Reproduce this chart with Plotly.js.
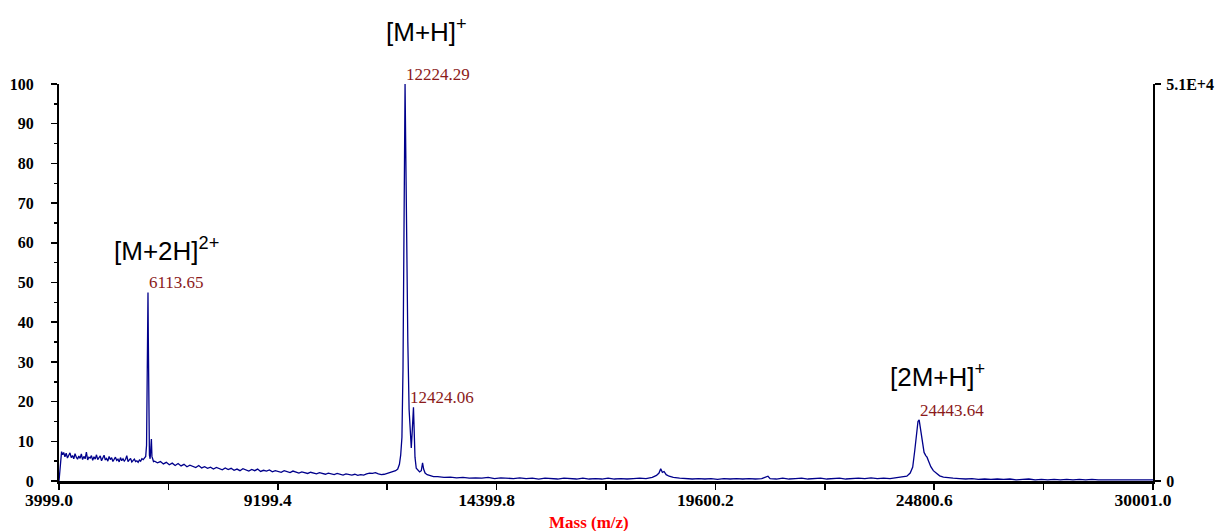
<!DOCTYPE html>
<html>
<head>
<meta charset="utf-8">
<script src="https://cdn.plot.ly/plotly-3.0.1.min.js"></script>
<style>html,body{margin:0;padding:0;background:#fff;}#chart{width:1220px;height:531px;}</style>
</head>
<body>
<div id="chart"></div>
<script>
// ---- Spectrum data (mass m/z, relative intensity %) ----
const massA = [3999, 4030, 4060, 4085, 4110, 4140, 4170, 4200, 4230, 4260,
  4290, 4320, 4350, 4380, 4410, 4440, 4470, 4500, 4530, 4560,
  4590, 4620, 4650, 4680, 4710, 4740, 4770, 4800, 4830, 4860,
  4890, 4920, 4950, 4980, 5010, 5040, 5070, 5100, 5130, 5160,
  5190, 5220, 5250, 5280, 5310, 5340, 5370, 5400, 5430, 5460,
  5490, 5520, 5550, 5580, 5610, 5640, 5670, 5700, 5730, 5760,
  5790, 5820, 5850, 5880, 5910, 5940, 5970, 6000, 6030];
const intA = [0, 3.8, 7.4, 6.6, 7.2, 6.1, 7.0, 5.8, 6.6, 7.1,
  5.9, 6.4, 5.6, 6.9, 6.0, 5.5, 6.3, 5.7, 6.8, 5.4,
  6.2, 5.6, 7.3, 5.3, 6.0, 5.8, 6.4, 5.2, 6.1, 5.5,
  6.6, 5.4, 5.9, 6.3, 5.1, 5.8, 6.5, 5.3, 5.7, 5.0,
  6.2, 5.4, 5.9, 4.9, 5.6, 6.0, 5.2, 5.5, 4.8, 5.9,
  5.1, 5.6, 5.0, 5.4, 6.4, 4.9, 5.3, 5.7, 4.8, 5.2,
  5.5, 4.9, 5.1, 4.7, 5.3, 5.0, 5.6, 5.4, 5.8];

const massB = [6060, 6080, 6095, 6106, 6114, 6122, 6133, 6148, 6165, 6182, 6195, 6208, 6225, 6245];
const intB  = [6.2, 9, 24, 42, 47.5, 36, 14, 6.5, 5.6, 8.5, 10.6, 6.2, 5.4, 4.9];

const massC = [6270, 6340, 6410, 6480, 6550, 6620, 6690, 6760, 6830, 6900,
  6970, 7040, 7110, 7180, 7250, 7320, 7390, 7460, 7530, 7600,
  7670, 7740, 7810, 7880, 7950, 8020, 8090, 8160, 8230, 8300,
  8370, 8440, 8510, 8580, 8650, 8720, 8790, 8860, 8930, 9000,
  9070, 9140, 9210, 9280, 9350, 9420, 9490, 9560, 9630, 9700,
  9770, 9840, 9910, 9980, 10050, 10120, 10190, 10260, 10330, 10400,
  10470, 10540, 10610, 10680, 10750, 10820, 10890, 10960, 11030, 11100,
  11170, 11240, 11310, 11380, 11450, 11520, 11590, 11660, 11730, 11800,
  11870, 11940];
const intC = [5.0, 4.6, 4.9, 4.3, 4.7, 4.1, 4.5, 3.9, 4.4, 3.8,
  4.2, 3.6, 4.0, 3.7, 3.4, 3.9, 3.3, 3.6, 3.2, 3.5,
  3.0, 3.4, 3.1, 2.8, 3.3, 2.9, 3.2, 2.7, 3.0, 2.6,
  3.1, 2.8, 2.5, 2.9, 2.6, 3.0, 2.4, 2.7, 2.5, 2.8,
  2.3, 2.6, 2.4, 2.2, 2.6, 2.3, 2.1, 2.5, 2.2, 2.0,
  2.3, 2.1, 1.9, 2.2, 2.0, 1.8, 2.1, 1.9, 1.7, 2.0,
  1.8, 1.6, 1.9, 1.7, 1.5, 1.8, 1.6, 1.5, 1.7, 1.4,
  1.6, 1.5, 1.8, 2.0, 1.9, 2.1, 1.8, 1.6, 1.7, 1.9,
  2.1, 2.4];

const massD = [12000, 12050, 12090, 12120, 12150, 12175, 12198, 12214, 12224, 12236,
  12260, 12290, 12320, 12350, 12372, 12392, 12410, 12424, 12440, 12460,
  12490, 12530, 12570, 12610, 12640, 12665, 12700, 12750, 12820, 12900];
const intD = [2.6, 3.0, 4.2, 6.5, 11, 28, 62, 92, 100, 88,
  60, 35, 18, 9.5, 8.3, 12, 17.2, 18.6, 13, 6,
  3.2, 2.6, 2.3, 2.6, 4.6, 3.0, 2.0, 1.6, 1.3, 1.1];

const massE = [13000, 13150, 13300, 13450, 13600, 13750, 13900, 14050, 14200, 14350,
  14500, 14650, 14800, 14950, 15100, 15250, 15400, 15550, 15700, 15850,
  16000, 16150, 16300, 16450, 16600, 16750, 16900, 17050, 17200, 17350,
  17500, 17650, 17800, 17950, 18100, 18200, 18260, 18300, 18340, 18380,
  18430, 18500, 18600, 18750, 18900, 19050, 19200, 19350, 19500, 19650,
  19800, 19950, 20100, 20250, 20400, 20550, 20700, 20850, 20900, 21050,
  21200, 21350, 21500, 21650, 21800, 21950, 22100, 22250, 22400, 22550,
  22700, 22850, 23000, 23150, 23300, 23450, 23600, 23750, 23900, 24050,
  24150, 24230, 24290, 24340, 24380, 24415, 24443, 24470, 24510, 24560,
  24600, 24630, 24670, 24720, 24780, 24850, 24930, 25020, 25130, 25250,
  25400, 25550, 25700, 25850, 26000, 26150, 26300, 26450, 26600, 26750,
  26900, 27050, 27200, 27350, 27500, 27650, 27800, 27950, 28100, 28250,
  28400, 28550, 28700, 28850, 29000, 29150, 29300, 29450, 29600, 29750,
  29900, 30001];
const intE = [1.1, 0.9, 1.0, 0.8, 0.9, 0.7, 0.8, 0.7, 0.9, 0.6,
  0.8, 0.7, 0.6, 0.8, 0.6, 0.7, 0.5, 0.7, 0.6, 0.5,
  0.7, 0.6, 0.5, 0.7, 0.5, 0.6, 0.5, 0.7, 0.5, 0.6,
  0.5, 0.6, 0.7, 0.6, 0.9, 1.4, 2.0, 3.1, 2.2, 2.4,
  1.6, 1.2, 0.9, 0.7, 0.6, 0.5, 0.6, 0.5, 0.6, 0.4,
  0.6, 0.5, 0.6, 0.5, 0.6, 0.5, 0.6, 1.2, 0.6, 0.5,
  0.7, 0.5, 0.6, 0.7, 0.5, 0.6, 0.7, 0.5, 0.6, 0.7,
  0.5, 0.6, 0.7, 0.6, 0.8, 0.6, 0.7, 0.6, 0.8, 0.9,
  1.2, 2.0, 3.5, 7.8, 12.5, 15.0, 15.4, 13.5, 9.5, 7.2,
  6.4, 6.0, 4.9, 3.6, 2.6, 1.9, 1.3, 1.0, 0.8, 0.7,
  0.6, 0.5, 0.6, 0.4, 0.5, 0.4, 0.5, 0.4, 0.5, 0.3,
  0.4, 0.5, 0.3, 0.4, 0.3, 0.4, 0.3, 0.4, 0.3, 0.4,
  0.3, 0.4, 0.3, 0.3, 0.4, 0.3, 0.3, 0.4, 0.3, 0.3,
  0.3, 0.3];

// ---- Peak labels ----
const peakMass  = [6113.65, 12224.29, 12424.06, 24443.64];
const peakInt   = [47.5, 100, 18.6, 15.4];
const peakLabel = ["6113.65", "12224.29", "12424.06", "24443.64"];

// ---- Ion labels (y in paper fraction of the plot height) ----
const ionText = ["[M+2H]<sup>2+</sup>", "[M+H]<sup>+</sup>", "[2M+H]<sup>+</sup>"];
const ionMass = [5259, 11724, 23703];
const ionY    = [0.582, 1.136, 0.267];

// ---- Axis ticks ----
const xTickVals  = [3999.0, 9199.4, 14399.8, 19600.2, 24800.6, 30001.0];
const xTickText  = ["3999.0", "9199.4", "14399.8", "19600.2", "24800.6", "30001.0"];
const xMinorVals = [6599.2, 11799.6, 17000.0, 22200.4, 27400.8];
const yTickVals  = [0, 10, 20, 30, 40, 50, 60, 70, 80, 90, 100];
const y2TickVals = [0, 51000];
const y2TickText = ["0", "5.1E+4"];

const mass = massA.concat(massB, massC, massD, massE);
const inten = intA.concat(intB, intC, intD, intE);

const serif = "Liberation Serif, Times New Roman, serif";

const annotations = [];
for (let i = 0; i < peakMass.length; i++) {
  annotations.push({
    x: peakMass[i], y: peakInt[i], xref: "x", yref: "y",
    text: peakLabel[i], showarrow: false, xanchor: "left", yanchor: "bottom",
    xshift: (i === 2 ? -5 : -1), yshift: -2,
    font: {family: serif, size: 17, color: "#8b1a1a"}
  });
}
for (let i = 0; i < ionText.length; i++) {
  annotations.push({
    x: ionMass[i], y: ionY[i], xref: "x", yref: "paper",
    text: ionText[i], showarrow: false, xanchor: "left", yanchor: "middle",
    font: {family: "Liberation Sans, Arial, sans-serif", size: 26, color: "#000"}
  });
}
annotations.push({
  x: 0.4845, y: -0.105, xref: "paper", yref: "paper",
  text: "Mass (m/z)", showarrow: false, xanchor: "center", yanchor: "middle",
  font: {family: serif, size: 17, color: "#ff0000", weight: "bold"}
});

const traces = [
  {
    x: mass, y: inten, type: "scatter", mode: "lines",
    line: {color: "#00008b", width: 1.3},
    hoverinfo: "skip", showlegend: false
  },
  {
    x: [], y: [], type: "scatter", mode: "lines", yaxis: "y2",
    hoverinfo: "skip", showlegend: false
  }
];

const layout = {
  width: 1220, height: 531,
  margin: {l: 59, r: 67, t: 84, b: 50},
  paper_bgcolor: "#fff", plot_bgcolor: "#fff",
  showlegend: false,
  xaxis: {
    range: [3999, 30001], tickmode: "array", tickvals: xTickVals, ticktext: xTickText,
    ticks: "outside", ticklen: 6, tickwidth: 1.5, tickcolor: "#000",
    minor: {tickmode: "array", tickvals: xMinorVals, ticks: "outside", ticklen: 6, tickwidth: 1.5, tickcolor: "#000", showgrid: false},
    showline: true, linewidth: 3, linecolor: "#000",
    showgrid: false, zeroline: false,
    ticklabelshift: -10, ticklabelstandoff: -5,
    tickfont: {family: serif, size: 17.5, color: "#000", weight: "bold"}
  },
  yaxis: {
    range: [0, 100], tickmode: "array", tickvals: yTickVals,
    ticks: "outside", ticklen: 6, tickwidth: 1.5, tickcolor: "#000",
    minor: {dtick: 5, tick0: 0, ticks: "outside", ticklen: 3, tickwidth: 1.5, tickcolor: "#000", showgrid: false},
    showline: true, linewidth: 2, linecolor: "#000",
    showgrid: false, zeroline: false,
    tickfont: {family: serif, size: 16, color: "#000", weight: "bold"}, ticklabelstandoff: 14
  },
  yaxis2: {
    overlaying: "y", side: "right", range: [0, 51000],
    tickmode: "array", tickvals: y2TickVals, ticktext: y2TickText,
    ticks: "outside", ticklen: 6, tickwidth: 1.5, tickcolor: "#000",
    showline: true, linewidth: 2, linecolor: "#000",
    showgrid: false, zeroline: false, ticklabelstandoff: 2,
    tickfont: {family: serif, size: 16, color: "#000", weight: "bold"}
  },
  annotations: annotations
};

Plotly.newPlot("chart", traces, layout, {displayModeBar: false, staticPlot: true});
</script>
</body>
</html>
